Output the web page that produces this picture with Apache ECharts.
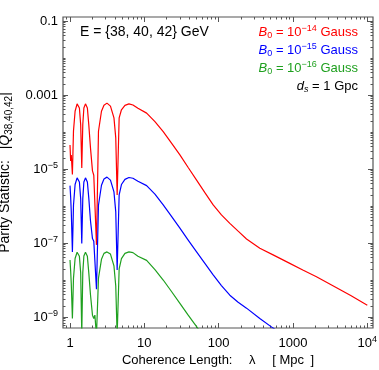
<!DOCTYPE html>
<html>
<head>
<meta charset="utf-8">
<script src="https://cdn.jsdelivr.net/npm/echarts@6/dist/echarts.min.js"></script>
<style>
  html, body { margin: 0; padding: 0; background: #fff; }
  #chart { width: 379px; height: 370px; }
</style>
</head>
<body>
<div id="chart"></div>
<script>
// coherence length lambda [Mpc]
const lambda = [1.00, 1.02, 1.04, 1.077, 1.114, 1.171, 1.246, 1.338, 1.392, 1.44,
  1.486, 1.537, 1.615, 1.713, 1.789, 1.886, 2.006, 2.089, 2.161, 2.271,
  2.416, 2.651, 2.864, 3.144, 3.502, 3.903, 4.127, 4.309, 4.584, 4.922,
  5.486, 6.209, 7.029, 8.204, 10.74, 13.89, 17.95, 23.21, 30.10, 38.91,
  50.47, 65.26, 84.37, 109.0, 141.4, 182.9, 237.1, 358, 540, 906,
  1354, 2069, 3647, 5983, 10000]

// log10 |Q|, one list per field strength
const redLog = [-4.35, -4.78, -4.62, -5.15, -3.97, -3.44, -3.24, -3.35, -3.80, -4.97,
  -3.80, -3.35, -3.24, -3.35, -3.80, -4.43, -5.05, -5.17, -5.14, -7.05,
  -3.98, -3.44, -3.28, -3.22, -3.30, -3.62, -4.16, -5.70, -3.62, -3.40,
  -3.28, -3.24, -3.27, -3.36, -3.49, -3.72, -3.99, -4.30, -4.62, -4.96,
  -5.30, -5.64, -5.97, -6.24, -6.47, -6.68, -6.89, -7.14, -7.32, -7.55,
  -7.73, -7.91, -8.18, -8.42, -8.68]
const blueLog = [-5.45, -5.75, -6.15, -7.24, -5.98, -5.42, -5.24, -5.35, -5.80, -7.01,
  -5.80, -5.35, -5.24, -5.35, -5.78, -6.40, -6.88, -6.95, -6.90, -8.25,
  -5.98, -5.44, -5.27, -5.22, -5.30, -5.62, -6.16, -7.73, -5.70, -5.42,
  -5.28, -5.23, -5.25, -5.33, -5.45, -5.68, -5.97, -6.28, -6.60, -6.92,
  -7.24, -7.55, -7.86, -8.15, -8.41, -8.60, -8.76, -9.04, -9.30, -9.60,
  null, null, null, null, null]
const greenLog = [-7.46, -7.75, -8.10, -9.04, -7.95, -7.42, -7.25, -7.36, -7.80, -9.45,
  -7.80, -7.35, -7.25, -7.36, -7.80, -8.40, -8.95, -9.04, -8.95, -9.50,
  -7.95, -7.44, -7.28, -7.24, -7.30, -7.62, -8.16, -9.50, -7.70, -7.42,
  -7.28, -7.24, -7.26, -7.36, -7.47, -7.72, -8.00, -8.31, -8.63, -8.95,
  -9.26, -9.58, null, null, null, null, null, null, null, null,
  null, null, null, null, null]

const xTicks = [1, 10, 100, 1000, 10000]
const yTicks = [1e-9, 1e-7, 1e-5, 1e-3, 0.1]

const xMin = 0.805, xMax = 11930
const yMin = 5.05e-10, yMax = 0.128
const font = 'Liberation Sans'
const frame = '#555'

// minor ticks 2..9 x 10^k
const minorX = []
for (let k = -1; k <= 4; k++) {
  for (let m = 2; m <= 9; m++) {
    const v = m * Math.pow(10, k)
    if (v > xMin && v < xMax) minorX.push(v)
  }
}
const minorY = []
for (let k = -10; k <= -1; k++) {
  for (let m = 1; m <= 9; m++) {
    if (m === 1 && k % 2 !== 0) continue
    const v = m * Math.pow(10, k)
    if (v > yMin && v < yMax) minorY.push(v)
  }
}

const toPairs = logs => lambda
  .map((x, i) => logs[i] == null ? null : [x, Math.pow(10, logs[i])])
  .filter(p => p)

const supRich = {
  b: { fontSize: 13, lineHeight: 16, fontFamily: font, color: '#000' },
  s: { fontSize: 9, lineHeight: 9, verticalAlign: 'top', fontFamily: font, color: '#000' }
}

function tickAxis (pos, min, max, values, len) {
  return {
    type: 'log',
    position: pos,
    min: min,
    max: max,
    axisLine: { show: false },
    splitLine: { show: false },
    axisTick: { show: true, inside: true, length: len, customValues: values, lineStyle: { color: frame, width: 1 } },
    axisLabel: { show: false }
  }
}

function legendLine (label, color, top) {
  const st = { fontSize: 13, lineHeight: 16, fontFamily: font, fontWeight: 'normal', color: color }
  const small = { fontSize: 9, lineHeight: 9, fontFamily: font, fontWeight: 'normal', color: color }
  return {
    text: label,
    right: 21,
    top: top,
    padding: 0,
    textStyle: {
      fontWeight: 'normal',
      rich: {
        t: st,
        i: Object.assign({}, st, { fontStyle: 'italic' }),
        sub: Object.assign({}, small, { verticalAlign: 'bottom' }),
        isub: Object.assign({}, small, { verticalAlign: 'bottom', fontStyle: 'italic' }),
        sup: Object.assign({}, small, { verticalAlign: 'top' })
      }
    }
  }
}

const chart = echarts.init(document.getElementById('chart'))
chart.setOption({
  animation: false,
  backgroundColor: '#fff',
  title: [
    {
      text: 'E = {38, 40, 42} GeV',
      left: 80,
      top: 25,
      padding: 0,
      textStyle: { fontSize: 14, fontWeight: 'normal', fontFamily: font, color: '#000' }
    },
    legendLine('{i|B}{sub|0}{t| = 10}{sup|\u221214}{t| Gauss}', '#ff0000', 24),
    legendLine('{i|B}{sub|0}{t| = 10}{sup|\u221215}{t| Gauss}', '#0000ff', 42),
    legendLine('{i|B}{sub|0}{t| = 10}{sup|\u221216}{t| Gauss}', '#1fa01f', 60),
    legendLine('{i|d}{isub|s}{t| = 1 Gpc}', '#000', 78)
  ],
  grid: {
    left: 63, right: 6, top: 17, bottom: 42,
    outerBoundsMode: 'none',
    containLabel: false,
    show: true, borderColor: frame, borderWidth: 1.2, backgroundColor: 'transparent'
  },
  xAxis: [
    {
      type: 'log',
      position: 'bottom',
      min: xMin,
      max: xMax,
      name: 'Coherence Length:\u2002\u2002 \u03bb\u2002\u2002 [ Mpc\u2002]',
      nameLocation: 'middle',
      nameGap: 26,
      nameTextStyle: { fontSize: 13, fontFamily: font, color: '#000' },
      axisLine: { show: false },
      splitLine: { show: false },
      axisTick: { show: true, inside: true, length: 5, customValues: xTicks, lineStyle: { color: frame, width: 1 } },
      axisLabel: {
        customValues: xTicks,
        margin: 7,
        formatter: v => {
          const e = Math.round(Math.log10(v))
          return e < 4 ? '{b|' + String(Math.pow(10, e)) + '}' : '{b|10}{s|' + e + '}'
        },
        rich: supRich
      }
    },
    tickAxis('bottom', xMin, xMax, minorX, 2.5),
    tickAxis('top', xMin, xMax, xTicks, 5),
    tickAxis('top', xMin, xMax, minorX, 2.5)
  ],
  yAxis: [
    {
      type: 'log',
      position: 'left',
      min: yMin,
      max: yMax,
      name: '{t|Parity Statistic:\u2002 |}{q|Q}{sub|38,40,42}{t||}',
      nameLocation: 'middle',
      nameGap: 46,
      nameTextStyle: {
        rich: {
          t: { fontSize: 14, lineHeight: 18, fontFamily: font, color: '#000' },
          q: { fontSize: 14, lineHeight: 18, fontFamily: font, color: '#000', fontStyle: 'italic' },
          sub: { fontSize: 10, lineHeight: 10, verticalAlign: 'bottom', fontFamily: font, color: '#000' }
        }
      },
      axisLine: { show: false },
      splitLine: { show: false },
      axisTick: { show: true, inside: true, length: 5, customValues: yTicks, lineStyle: { color: frame, width: 1 } },
      axisLabel: {
        customValues: yTicks,
        margin: 5,
        formatter: v => {
          const e = Math.round(Math.log10(v))
          if (e === -1) return '{b|0.1}'
          if (e === -3) return '{b|0.001}'
          return '{b|10}{s|\u2212' + (-e) + '}'
        },
        rich: supRich
      }
    },
    tickAxis('left', yMin, yMax, minorY, 2.5),
    tickAxis('right', yMin, yMax, yTicks, 5),
    tickAxis('right', yMin, yMax, minorY, 2.5)
  ],
  series: [
    { name: 'B0 = 1e-14', type: 'line', data: toPairs(redLog), color: '#ff0000' },
    { name: 'B0 = 1e-15', type: 'line', data: toPairs(blueLog), color: '#0000ff' },
    { name: 'B0 = 1e-16', type: 'line', data: toPairs(greenLog), color: '#1fa01f' }
  ].map(s => Object.assign(s, {
    showSymbol: false,
    clip: true,
    lineStyle: { width: 1.2 },
    xAxisIndex: 0,
    yAxisIndex: 0
  }))
})
</script>
</body>
</html>
